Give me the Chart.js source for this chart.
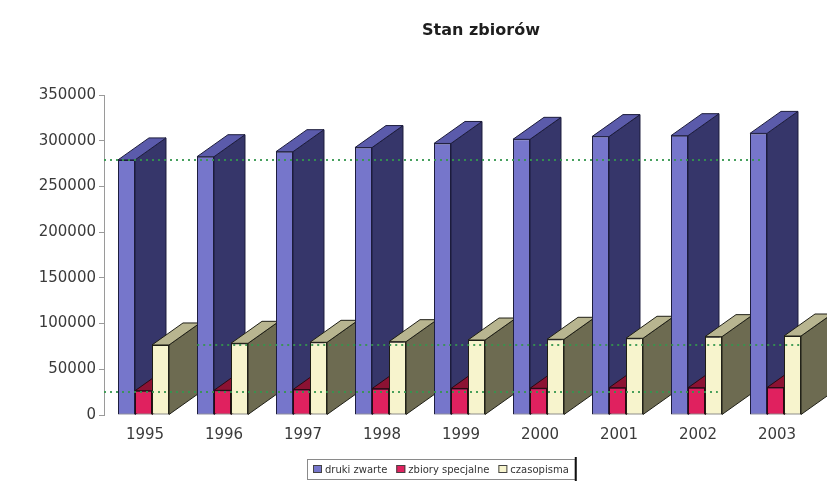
<!DOCTYPE html>
<html>
<head>
<meta charset="utf-8">
<script src="https://cdn.jsdelivr.net/npm/chart.js@4.4.0/dist/chart.umd.min.js"></script>
<style>
  html, body { margin: 0; padding: 0; background: #ffffff; }
  canvas { display: block; }
</style>
</head>
<body>
<canvas id="chart" width="827" height="486"></canvas>
<script>
// Holdings of the library, 1995–2003
const years = ['1995', '1996', '1997', '1998', '1999', '2000', '2001', '2002', '2003'];
const drukiZwarte = [279000, 282500, 288000, 292500, 297000, 301500, 304500, 305500, 308000];
const zbiorySpecjalne = [26500, 27000, 27800, 28800, 29000, 29200, 29800, 29800, 30000];
const czasopisma = [76600, 78400, 79500, 80200, 82000, 82800, 83900, 85700, 86400];
const seriesNames = ['druki zwarte', 'zbiory specjalne', 'czasopisma'];
const chartTitle = 'Stan zbiorów';
const axisMax = 350000;
const axisStep = 50000;

// Dotted guide lines at the 1995 levels
const guideLevels = [279000, 76600, 25000];

// Face colours of the extruded columns: front, side, top
const faceColors = [
  { front: '#7676cb', side: '#36366a', top: '#5b5bab', edge: '#1c1c3c' },
  { front: '#e0215f', side: '#7a0c2c', top: '#8c1233', edge: '#2a0a12' },
  { front: '#f7f4cd', side: '#6d6b51', top: '#b8b590', edge: '#1f1f16' }
];
const DEPTH_X = 31;
const DEPTH_Y = 22;

// Side and top faces behind each column front
const extrudePlugin = {
  id: 'extrude',
  beforeDatasetsDraw(chart) {
    const ctx = chart.ctx;
    const n = chart.data.labels.length;
    ctx.save();
    ctx.lineWidth = 1;
    ctx.lineJoin = 'round';
    for (let i = 0; i < n; i++) {
      chart.data.datasets.forEach((ds, d) => {
        const bar = chart.getDatasetMeta(d).data[i];
        const { x, y, base, width } = bar.getProps(['x', 'y', 'base', 'width'], true);
        const l = x - width / 2, r = x + width / 2;
        const c = faceColors[d];
        ctx.strokeStyle = c.edge;
        // side face
        ctx.beginPath();
        ctx.moveTo(r, y);
        ctx.lineTo(r + DEPTH_X, y - DEPTH_Y);
        ctx.lineTo(r + DEPTH_X, base - DEPTH_Y);
        ctx.lineTo(r, base);
        ctx.closePath();
        ctx.fillStyle = c.side;
        ctx.fill();
        ctx.stroke();
        // top face
        ctx.beginPath();
        ctx.moveTo(l, y);
        ctx.lineTo(l + DEPTH_X, y - DEPTH_Y);
        ctx.lineTo(r + DEPTH_X, y - DEPTH_Y);
        ctx.lineTo(r, y);
        ctx.closePath();
        ctx.fillStyle = c.top;
        ctx.fill();
        ctx.stroke();
      });
    }
    ctx.restore();
  }
};

// Green dotted guides; spans are given in category units
const guidePlugin = {
  id: 'guides',
  afterDatasetsDraw(chart, args, opts) {
    const ctx = chart.ctx;
    const xs = chart.scales.x, ys = chart.scales.y;
    ctx.save();
    ctx.strokeStyle = 'rgba(52, 150, 78, 0.9)';
    ctx.lineWidth = 2;
    ctx.setLineDash([2, 4]);
    guideLevels.forEach((v, k) => {
      const py = Math.round(ys.getPixelForValue(v));
      const span = opts.spans[k];
      const x0 = Math.max(chart.chartArea.left, xs.getPixelForValue(span[0]));
      const x1 = xs.getPixelForValue(span[1]);
      ctx.beginPath();
      ctx.moveTo(x0, py);
      ctx.lineTo(x1, py);
      ctx.stroke();
    });
    ctx.restore();
  }
};

// Title and boxed legend
const framePlugin = {
  id: 'frame',
  afterDraw(chart, args, opts) {
    const ctx = chart.ctx;
    ctx.save();
    ctx.fillStyle = '#1e1e1e';
    ctx.font = 'bold 16px "DejaVu Sans"';
    ctx.textAlign = 'center';
    ctx.textBaseline = 'middle';
    ctx.fillText(chartTitle, opts.titleX, opts.titleY);

    ctx.font = '10px "DejaVu Sans"';
    ctx.textAlign = 'left';
    const box = 9, gapIn = 3, gapOut = 9, pad = 6;
    const widths = seriesNames.map(s => ctx.measureText(s).width);
    let total = pad * 2;
    widths.forEach((w, k) => { total += box + gapIn + w + (k < widths.length - 1 ? gapOut : 0); });
    const left = Math.round(opts.legendX - total / 2);
    const top = opts.legendY - 10, h = 20;
    ctx.fillStyle = '#ffffff';
    ctx.fillRect(left, top, total, h);
    ctx.strokeStyle = '#8a8a8a';
    ctx.lineWidth = 1;
    ctx.strokeRect(left + 0.5, top + 0.5, total, h);
    ctx.fillStyle = '#111111';
    ctx.fillRect(left + total, top - 2, 2, h + 4);
    let cx = left + pad;
    seriesNames.forEach((s, k) => {
      ctx.fillStyle = faceColors[k].front;
      ctx.fillRect(cx, opts.legendY - 4, box, 8);
      ctx.strokeStyle = '#444';
      ctx.strokeRect(cx + 0.5, opts.legendY - 3.5, box - 1, 7);
      cx += box + gapIn;
      ctx.fillStyle = '#333333';
      ctx.textBaseline = 'middle';
      ctx.fillText(s, cx, opts.legendY + 1);
      cx += widths[k] + gapOut;
    });
    ctx.restore();
  }
};

const series = [drukiZwarte, zbiorySpecjalne, czasopisma];

new Chart(document.getElementById('chart'), {
  type: 'bar',
  data: {
    labels: years,
    datasets: series.map((vals, d) => ({
      label: seriesNames[d],
      data: vals,
      backgroundColor: faceColors[d].front,
      borderColor: faceColors[d].edge,
      borderWidth: 1,
      borderSkipped: false,
      categoryPercentage: 0.646,
      barPercentage: 1
    }))
  },
  options: {
    responsive: false,
    animation: false,
    events: [],
    layout: { padding: { top: 95, right: 12, bottom: 41, left: 0 } },
    plugins: {
      legend: { display: false },
      title: { display: false },
      tooltip: { enabled: false },
      guides: { spans: [[-0.5, 7.84], [0.68, 8.3], [-0.5, 7.27]] },
      frame: { titleX: 481, titleY: 31, legendX: 441, legendY: 469 }
    },
    scales: {
      x: {
        grid: { display: false, drawTicks: false },
        border: { display: false },
        ticks: {
          color: '#3a3a3a',
          font: { family: 'DejaVu Sans', size: 15 },
          padding: 11,
          labelOffset: 1.5,
          maxRotation: 0
        },
        afterFit(scale) { scale.height = 30; }
      },
      y: {
        min: 0,
        max: axisMax,
        grid: { display: true, drawOnChartArea: false, drawTicks: true, tickLength: 5, color: '#9a9a9a' },
        border: { display: true, color: '#9a9a9a' },
        ticks: {
          stepSize: axisStep,
          color: '#3a3a3a',
          font: { family: 'DejaVu Sans', size: 15 },
          padding: 3,
          callback: (value) => String(value)
        },
        afterFit(scale) { scale.width = 104; }
      }
    }
  },
  plugins: [extrudePlugin, guidePlugin, framePlugin]
});
</script>
</body>
</html>
